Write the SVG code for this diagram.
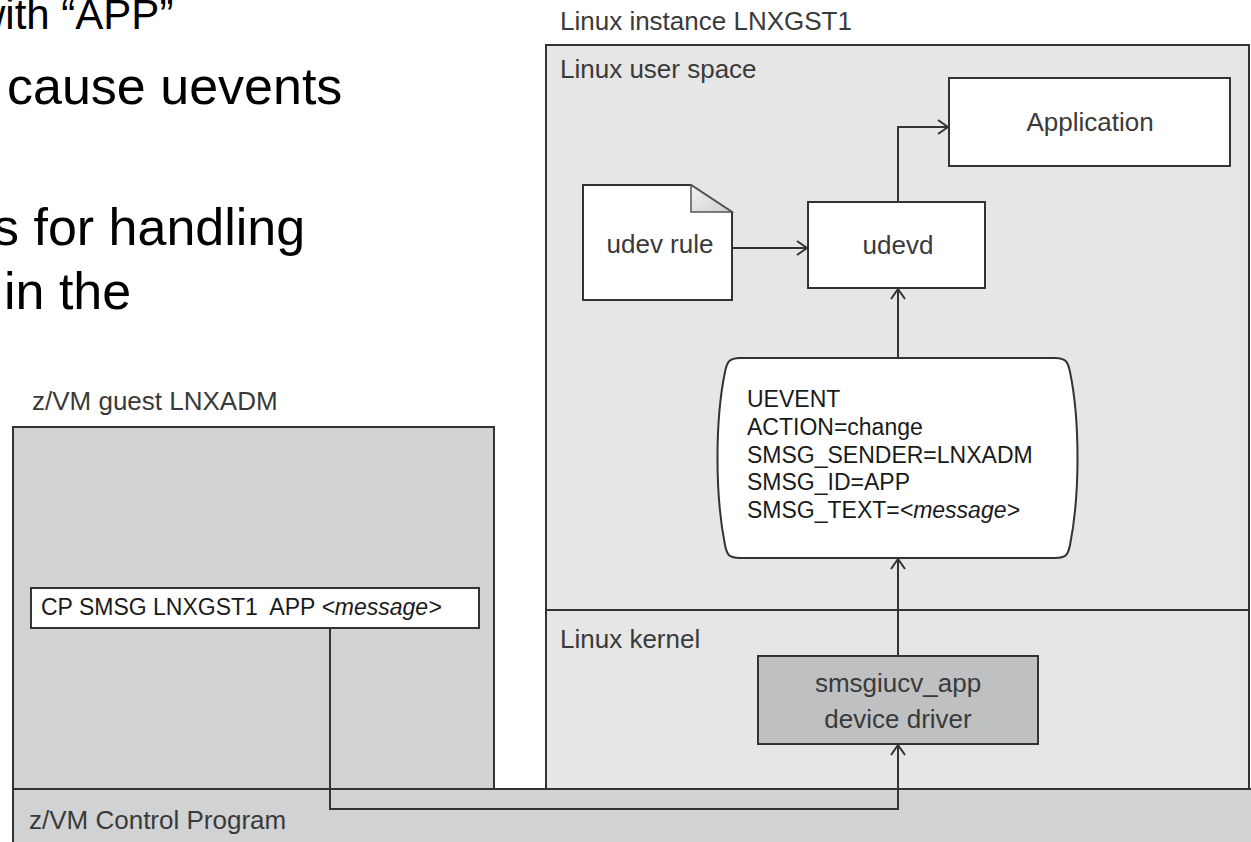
<svg xmlns="http://www.w3.org/2000/svg" width="1251" height="842" viewBox="0 0 1251 842">
<style>
.slide{font-family:"Liberation Sans",Arial,sans-serif;fill:#000}
.hand{font-family:"Liberation Sans",Arial,sans-serif;font-size:26px;fill:#3a3a3a}
.mono{font-family:"Liberation Sans",Arial,sans-serif;font-size:23px;fill:#1a1a1a}
.box{stroke:#333;stroke-width:2}
.conn{fill:none;stroke:#333;stroke-width:2}
</style>
<defs>
<marker id="arr" viewBox="0 0 12 16" refX="11" refY="8" markerWidth="12" markerHeight="16" markerUnits="userSpaceOnUse" orient="auto">
<path d="M1,1 L11,8 L1,15" fill="none" stroke="#333" stroke-width="2"/>
</marker>
<linearGradient id="fold" x1="0" y1="0" x2="1" y2="1">
<stop offset="0" stop-color="#f4f4f4"/><stop offset="1" stop-color="#cfcfcf"/>
</linearGradient>
</defs>
<rect width="1251" height="842" fill="#fff"/>

<g id="slide-text">
<text class="slide" x="-25" y="29" font-size="42">with “APP”</text>
<text class="slide" x="7" y="104" font-size="52">cause uevents</text>
<text class="slide" x="-7" y="245" font-size="52">s for handling</text>
<text class="slide" x="4" y="309" font-size="52">in the</text>
</g>

<g id="linux-instance">
<text class="hand" x="560" y="30">Linux instance LNXGST1</text>
<rect class="box" x="546" y="45" width="703" height="744" fill="#e6e6e6"/>
<line class="box" x1="546" y1="610" x2="1249" y2="610"/>
<text class="hand" x="560" y="78">Linux user space</text>
<text class="hand" x="560" y="648">Linux kernel</text>
</g>

<g id="zvm-guest">
<text class="hand" x="32" y="410">z/VM guest LNXADM</text>
<rect class="box" x="13" y="427" width="481" height="362" fill="#d1d2d4"/>
</g>

<g id="zvm-cp">
<rect class="box" x="13" y="789" width="1250" height="70" fill="#d1d2d4"/>
<text class="hand" x="29" y="829">z/VM Control Program</text>
</g>

<g id="application">
<rect class="box" x="949" y="78" width="281" height="88" fill="#fff"/>
<text class="hand" x="1090" y="131" text-anchor="middle">Application</text>
</g>

<g id="udev-rule">
<path class="box" d="M583,185 H691 L732,212 V300 H583 Z" fill="#fff"/>
<path d="M691,185 V212 H732 Z" fill="url(#fold)" stroke="#555" stroke-width="1.5"/>
<text class="hand" x="660" y="253" text-anchor="middle">udev rule</text>
</g>

<g id="udevd">
<rect class="box" x="808" y="202" width="177" height="86" fill="#fff"/>
<text class="hand" x="898" y="254" text-anchor="middle">udevd</text>
</g>

<g id="uevent">
<path class="box" fill="#fff" d="M740,358 H1055 C1066,358 1068,362 1070,372 C1080,420 1080,495 1070,545 C1068,555 1066,558 1055,558 H740 C729,558 727,555 725,545 C715,495 715,420 725,372 C727,362 729,358 740,358 Z"/>
<text class="mono" x="747" y="407">UEVENT</text>
<text class="mono" x="747" y="435">ACTION=change</text>
<text class="mono" x="747" y="463">SMSG_SENDER=LNXADM</text>
<text class="mono" x="747" y="490">SMSG_ID=APP</text>
<text class="mono" x="747" y="518">SMSG_TEXT=<tspan font-style="italic">&lt;message&gt;</tspan></text>
</g>

<g id="smsgiucv">
<rect class="box" x="758" y="656" width="280" height="88" fill="#bfc0c2"/>
<text class="hand" x="898" y="692" text-anchor="middle">smsgiucv_app</text>
<text class="hand" x="898" y="728" text-anchor="middle">device driver</text>
</g>

<g id="cp-command">
<rect class="box" x="31" y="588" width="448" height="40" fill="#fff"/>
<text class="mono" x="41" y="615" font-size="24" style="white-space:pre">CP SMSG LNXGST1  APP <tspan font-style="italic">&lt;message&gt;</tspan></text>
</g>

<g id="connectors">
<polyline class="conn" points="330,628 330,809 898,809 898,745" marker-end="url(#arr)"/>
<line class="conn" x1="898" y1="656" x2="898" y2="559" marker-end="url(#arr)"/>
<line class="conn" x1="898" y1="358" x2="898" y2="289" marker-end="url(#arr)"/>
<line class="conn" x1="732" y1="248" x2="807" y2="248" marker-end="url(#arr)"/>
<polyline class="conn" points="898,202 898,127 948,127" marker-end="url(#arr)"/>
</g>
</svg>
